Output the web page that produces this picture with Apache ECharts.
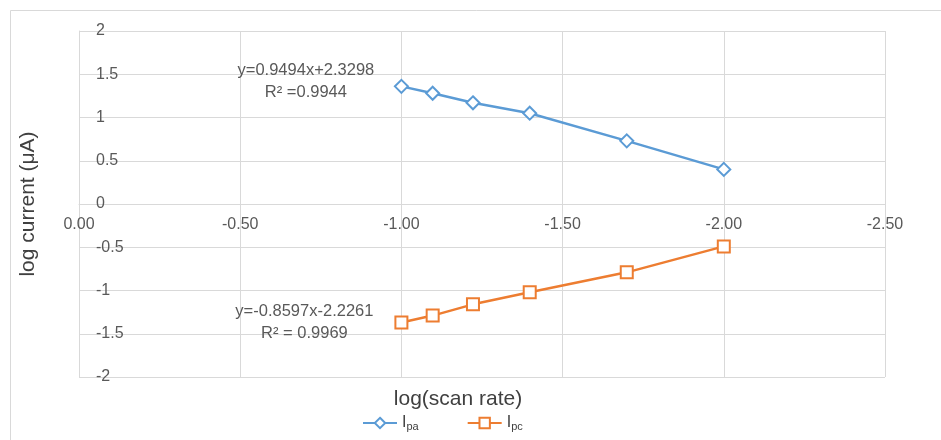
<!DOCTYPE html>
<html>
<head>
<meta charset="utf-8">
<script src="https://cdn.jsdelivr.net/npm/echarts@6/dist/echarts.min.js"></script>
<style>
  html, body { margin: 0; padding: 0; background: #fff; }
  #chart { width: 941px; height: 440px; }
</style>
</head>
<body>
<div id="chart"></div>
<script>
// log of scan rate (V/s) for 100, 80, 60, 40, 20, 10 mV/s
const logScanRate = [-1.00, -1.097, -1.222, -1.398, -1.699, -2.00];
// log of anodic / cathodic peak currents
const logIpa = [1.36, 1.28, 1.17, 1.05, 0.73, 0.40];
const logIpc = [-1.37, -1.29, -1.16, -1.02, -0.79, -0.49];

const xTicks = [0, -0.5, -1, -1.5, -2, -2.5];
const yTicks = [-2, -1.5, -1, -0.5, 0, 0.5, 1, 1.5, 2];

const eqIpa = ['y=0.9494x+2.3298', 'R² =0.9944'];
const eqIpc = ['y=-0.8597x-2.2261', 'R² = 0.9969'];

const FONT = 'Liberation Sans';
const BLUE = '#5B9BD5';
const ORANGE = '#ED7D31';
const GRID = '#D9D9D9';
const TXT = '#595959';
const TITLE = '#404040';

const W = 941, H = 440;
const GRID_BOX = { left: 79, right: 56, top: 31, bottom: 63 };
const Y_MIN = -2, Y_MAX = 2;
// the horizontal axis crosses the vertical one at y = 0
const plotH = H - GRID_BOX.top - GRID_BOX.bottom;
const xAxisLift = -plotH * (0 - Y_MIN) / (Y_MAX - Y_MIN);

const pairs = (xs, ys) => xs.map((x, i) => [x, ys[i]]);

// the trendline equation sits beside the first point of each series
function withEquation(points, lines, pos) {
  return points.map((p, i) => i === 0 ? {
    value: p,
    label: {
      show: true,
      position: pos,
      align: 'center',
      formatter: lines.join('\n'),
      color: TXT,
      fontFamily: FONT,
      fontSize: 16.5,
      lineHeight: 22
    }
  } : p);
}

const chart = echarts.init(document.getElementById('chart'), null, { renderer: 'canvas' });

chart.setOption({
  animation: false,
  backgroundColor: '#fff',
  textStyle: { fontFamily: FONT },
  graphic: [
    {
      type: 'rect',
      shape: { x: 10.5, y: 10.5, width: 940, height: 440 },
      style: { fill: 'none', stroke: '#D9D9D9', lineWidth: 1 },
      silent: true
    },
    {
      type: 'text',
      x: 458,
      y: 399,
      style: {
        text: 'log(scan rate)',
        align: 'center',
        verticalAlign: 'middle',
        fill: TITLE,
        font: '21px "Liberation Sans"'
      },
      silent: true
    }
  ],
  grid: GRID_BOX,
  xAxis: {
    type: 'value',
    inverse: true,
    min: -2.5,
    max: 0,
    interval: 0.5,
    offset: xAxisLift,
    axisLine: { show: true, onZero: false, lineStyle: { color: GRID, width: 1 } },
    axisTick: { show: false },
    axisLabel: {
      color: TXT, fontSize: 16, margin: 13,
      formatter: v => xTicks.includes(v) ? v.toFixed(2) : ''
    },
    splitLine: { show: true, lineStyle: { color: GRID, width: 1 } }
  },
  yAxis: {
    type: 'value',
    min: Y_MIN,
    max: Y_MAX,
    interval: 0.5,
    name: 'log current (μA)',
    nameLocation: 'middle',
    nameGap: 40,
    nameRotate: 90,
    nameTextStyle: { fontFamily: FONT, fontSize: 21, color: TITLE },
    axisLine: { show: true, onZero: false, lineStyle: { color: GRID, width: 1 } },
    axisTick: { show: false },
    axisLabel: {
      inside: true, margin: 17, color: TXT, fontSize: 16,
      formatter: v => yTicks.includes(v) ? String(v) : ''
    },
    splitLine: { show: true, lineStyle: { color: GRID, width: 1 } }
  },
  legend: {
    top: 410,
    left: 357,
    itemGap: 48,
    itemWidth: 34,
    itemHeight: 13,
    data: ['Ipa', 'Ipc'],
    formatter: name => '{i|I}{s|' + name.slice(1) + '}',
    textStyle: {
      rich: {
        i: { fontFamily: FONT, fontSize: 16, color: TITLE },
        s: { fontFamily: FONT, fontSize: 11, color: TITLE, padding: [7, 0, 0, 0] }
      }
    }
  },
  series: [
    {
      name: 'Ipa',
      type: 'line',
      data: withEquation(pairs(logScanRate, logIpa), eqIpa, [-88, -19]),
      symbol: 'diamond',
      symbolSize: 13,
      showAllSymbol: true,
      lineStyle: { color: BLUE, width: 2.5 },
      itemStyle: { color: '#fff', borderColor: BLUE, borderWidth: 2 },
      emphasis: { disabled: true }
    },
    {
      name: 'Ipc',
      type: 'line',
      data: withEquation(pairs(logScanRate, logIpc), eqIpc, [-90, -15]),
      symbol: 'rect',
      symbolSize: 12,
      showAllSymbol: true,
      lineStyle: { color: ORANGE, width: 2.5 },
      itemStyle: { color: '#fff', borderColor: ORANGE, borderWidth: 2 },
      emphasis: { disabled: true }
    }
  ]
});
</script>
</body>
</html>
